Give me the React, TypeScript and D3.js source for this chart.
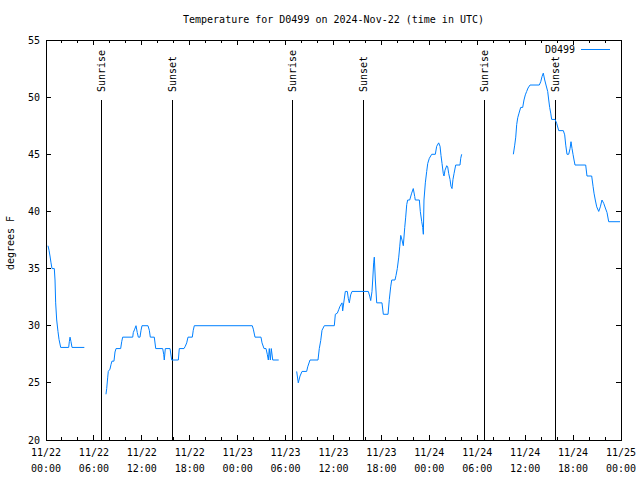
import React from "react";
import * as d3 from "d3";

const START = Date.UTC(2024, 10, 22, 0, 0, 0);
const TITLE = "Temperature for D0499 on 2024-Nov-22 (time in UTC)";
const SERIES_NAME = "D0499";
const Y_LABEL = "degrees F";
const Y_TICKS = [20, 25, 30, 35, 40, 45, 50, 55];

// hours since 2024-11-22 00:00 UTC, temperatures in degrees F
const seg1Hours = [0.25, 0.38, 0.5, 0.63, 0.75, 1.04, 1.13, 1.21, 1.34, 1.5, 1.63, 1.84, 2.84, 2.92, 3.01, 3.13, 3.26, 4.8];
const seg1Temps = [37, 36.6, 36.1, 35.5, 35, 35, 34, 32, 30.5, 29.5, 28.8, 28.1, 28.1, 28.6, 29, 28.6, 28.1, 28.1];

const seg2Hours = [7.51, 7.6, 7.73, 7.8, 8.01, 8.14, 8.26, 8.51, 8.64, 8.77, 9.35, 9.48, 9.6, 10.86, 10.93, 11.11, 11.27, 11.43, 11.56, 11.77, 11.9, 12.02, 12.77, 12.94, 13.06, 13.56, 13.74, 14.61, 14.74, 14.81, 14.94, 15.53, 15.74, 16.57, 16.69, 17.28, 17.44, 17.62, 17.78, 18.32, 18.44, 18.57, 25.83, 25.96, 26.17, 26.92, 27.05, 27.3, 27.55, 27.71, 27.84, 27.96, 28.09, 28.21, 28.39, 29.14];
const seg2Temps = [24, 24.5, 25.5, 26, 26.2, 26.6, 26.9, 26.9, 27.7, 28, 28, 28.6, 29, 29, 29.4, 29.7, 30, 29.4, 29, 29, 29.6, 30, 30, 29.6, 29, 29, 28, 28, 27.5, 27, 28, 28, 27, 27, 28, 28, 28.2, 28.5, 29, 29, 29.6, 30, 30, 29.7, 29, 29, 28.5, 28, 28, 27.5, 27, 28, 27, 28, 27, 27];

const seg3Hours = [31.39, 31.59, 31.81, 32.06, 32.64, 32.77, 33.06, 34.06, 34.22, 34.4, 34.56, 34.85, 36.1, 36.23, 36.48, 36.65, 36.81, 37.07, 37.15, 37.28, 37.48, 37.73, 37.85, 37.98, 38.15, 38.32, 40.36, 40.53, 40.66, 40.82, 40.91, 41.03, 41.11, 41.24, 41.41, 42.07, 42.24, 42.83, 42.99, 43.16, 43.29, 43.7, 43.83, 43.99, 44.17, 44.29, 44.42, 44.58, 44.74, 44.92, 45.04, 45.17, 45.29, 45.54, 45.79, 45.99, 46.17, 46.24, 46.75, 46.87, 47.05, 47.17, 47.25, 47.33, 47.5, 47.67, 47.8, 48.0, 48.3, 48.75, 48.92, 49.17, 49.34, 49.46, 49.59, 49.75, 49.84, 49.96, 50.18, 50.3, 50.43, 50.59, 50.71, 50.84, 50.96, 51.09, 51.3, 51.84, 51.93, 52.05];
const seg3Temps = [26, 25, 25.6, 26, 26, 26.4, 27, 27, 28, 28.7, 29.6, 30, 30, 31, 31.1, 31.4, 31.7, 32, 31.3, 32, 33, 33, 32.4, 32, 32.7, 33, 33, 32.6, 32.2, 33, 34, 35.5, 36, 34, 32, 32, 31, 31, 32.3, 33.4, 34, 34, 34.4, 35, 36, 36.9, 37.9, 37.5, 37, 38.6, 39.5, 40.6, 41, 41, 41.6, 42, 41.3, 41, 41, 40, 39.1, 38.6, 38, 41, 42.5, 43.5, 44.2, 44.65, 45, 45, 45.7, 46, 45.7, 44.9, 44.2, 43.3, 43.1, 43.6, 44, 43.9, 43.3, 42.8, 42.2, 42, 42.8, 43.3, 44.06, 44.06, 44.65, 45];

const seg4Hours = [58.52, 58.69, 58.82, 58.94, 59.07, 59.23, 59.44, 59.69, 59.85, 60.02, 60.19, 60.36, 60.61, 61.77, 61.95, 62.11, 62.27, 62.45, 62.61, 62.82, 62.95, 63.07, 63.2, 63.32, 63.74, 63.95, 64.2, 64.78, 64.95, 65.08, 65.24, 65.45, 65.62, 65.74, 65.87, 65.99, 66.12, 66.24, 67.58, 67.74, 68.33, 68.5, 68.62, 68.78, 68.96, 69.21, 69.41, 69.62, 69.84, 70.04, 70.25, 70.46, 71.88];
const seg4Temps = [45, 45.8, 46.5, 47.6, 48.2, 48.6, 49.1, 49.1, 49.75, 50.2, 50.5, 50.8, 51.06, 51.06, 51.35, 51.8, 52.1, 51.5, 51.06, 50.5, 49.75, 49.1, 48.6, 48.05, 48.05, 47.7, 47.07, 47.07, 46.7, 45.8, 45, 45, 45.5, 46.1, 45.5, 45, 44.5, 44.06, 44.06, 43.1, 43.1, 42.2, 41.6, 41, 40.4, 40, 40.4, 41, 40.7, 40.3, 39.9, 39.1, 39.1];

const sunriseHours = [6.92, 30.84, 54.88];
const sunsetHours = [15.81, 39.73, 63.77];

const FONT = "'DejaVu Sans Mono', 'Liberation Mono', monospace";
const BLUE = "#0080ff";

const W = 640, H = 480;
const L = 46, R = 621, T = 40, B = 440;

const toDate = (h: number) => new Date(START + h * 3600 * 1000);

export default function App() {
  const x = d3.scaleUtc().domain([toDate(0), toDate(72)]).range([L, R]);
  const y = d3.scaleLinear().domain([20, 55]).range([B, T]);

  const segments = [
    [seg1Hours, seg1Temps],
    [seg2Hours, seg2Temps],
    [seg3Hours, seg3Temps],
    [seg4Hours, seg4Temps],
  ].map(([hs, ts]) => hs.map((h, i) => ({ t: toDate(h), v: ts[i] })));

  const line = d3
    .line<{ t: Date; v: number }>()
    .x((d) => x(d.t))
    .y((d) => y(d.v));

  const minorTicks = x.ticks(d3.utcHour.every(2)!);
  const majorTicks = x.ticks(d3.utcHour.every(6)!);
  const fmtDate = d3.utcFormat("%m/%d");
  const fmtTime = d3.utcFormat("%H:%M");

  const events = [
    ...sunriseHours.map((h) => ({ h, label: "Sunrise" })),
    ...sunsetHours.map((h) => ({ h, label: "Sunset" })),
  ];
  const eventTop = y(20 + 0.85 * 35);
  const labelStart = y(20 + 0.87 * 35);

  return (
    <svg
      width={W}
      height={H}
      style={{ position: "absolute", left: 0, top: 0, background: "#fff" }}
      fontFamily={FONT}
      fontSize={10}
    >
      <rect x={0} y={0} width={W} height={H} fill="#fff" />
      <text x={(L + R) / 2} y={23} textAnchor="middle" fill="#000">
        {TITLE}
      </text>

      {/* y ticks */}
      {Y_TICKS.map((v) => (
        <g key={"y" + v} shapeRendering="crispEdges">
          <line x1={L} x2={L + 5} y1={y(v)} y2={y(v)} stroke="#000" />
          <line x1={R - 5} x2={R} y1={y(v)} y2={y(v)} stroke="#000" />
          <text x={40} y={y(v)} dy="0.35em" textAnchor="end" fill="#000" shapeRendering="auto">
            {v}
          </text>
        </g>
      ))}

      {/* x ticks */}
      {minorTicks.map((d, i) => {
        const isMajor = d.getUTCHours() % 6 === 0;
        const len = isMajor ? 5 : 3;
        return (
          <g key={"xm" + i} shapeRendering="crispEdges">
            <line x1={x(d)} x2={x(d)} y1={B} y2={B - len} stroke="#000" />
            <line x1={x(d)} x2={x(d)} y1={T} y2={T + len} stroke="#000" />
          </g>
        );
      })}
      {majorTicks.map((d, i) => (
        <g key={"xl" + i}>
          <text x={x(d)} y={456} textAnchor="middle" fill="#000">
            {fmtDate(d)}
          </text>
          <text x={x(d)} y={472} textAnchor="middle" fill="#000">
            {fmtTime(d)}
          </text>
        </g>
      ))}

      {/* sunrise / sunset */}
      {events.map((e, i) => {
        const ex = x(toDate(e.h));
        return (
          <g key={"ev" + i}>
            <line x1={ex} x2={ex} y1={B} y2={eventTop} stroke="#000" shapeRendering="crispEdges" />
            <text
              transform={`translate(${ex + 4},${labelStart}) rotate(-90)`}
              textAnchor="start"
              fill="#000"
            >
              {e.label}
            </text>
          </g>
        );
      })}

      {/* border */}
      <rect x={L} y={T} width={R - L} height={B - T} fill="none" stroke="#000" shapeRendering="crispEdges" />

      {/* data */}
      {segments.map((s, i) => (
        <path key={"s" + i} d={line(s) || ""} fill="none" stroke={BLUE} strokeWidth={1} />
      ))}

      {/* legend */}
      <text x={575} y={53} textAnchor="end" fill="#000">
        {SERIES_NAME}
      </text>
      <line x1={581} x2={610} y1={49.5} y2={49.5} stroke={BLUE} />

      {/* y label */}
      <text transform={`translate(14,243) rotate(-90)`} textAnchor="middle" fill="#000">
        {Y_LABEL}
      </text>
    </svg>
  );
}
